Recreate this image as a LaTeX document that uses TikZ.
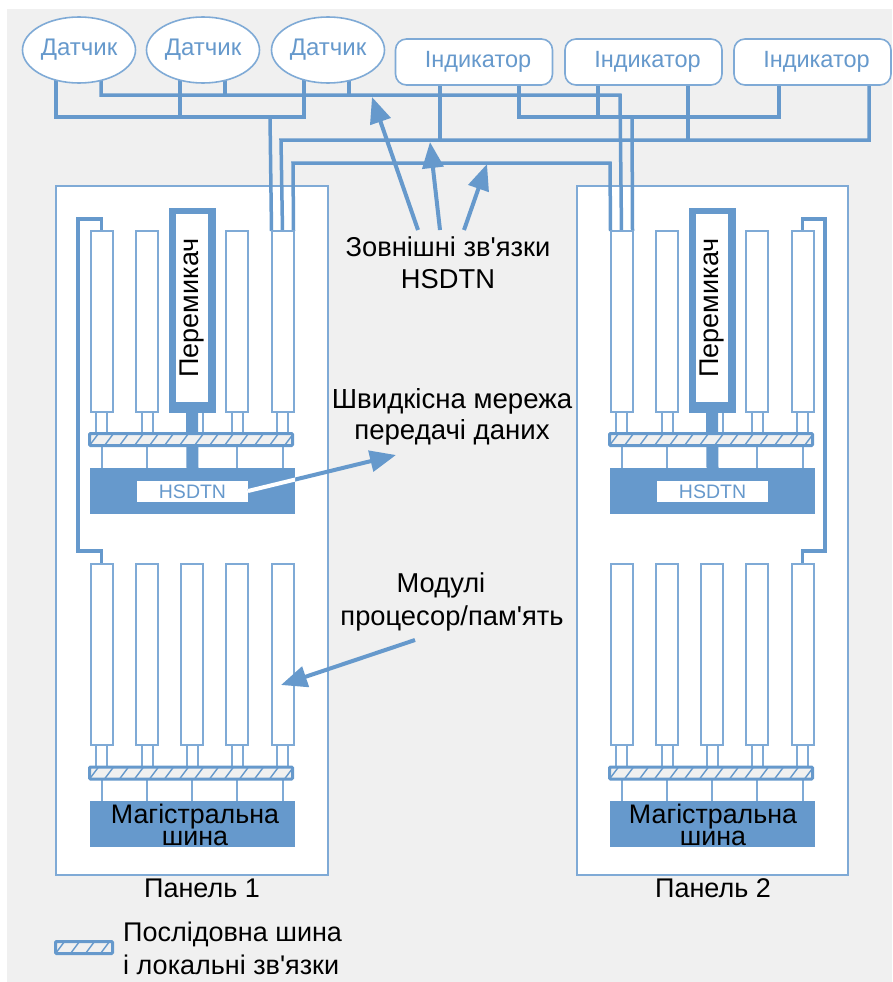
\documentclass[tikz,border=0pt]{standalone}
\usepackage{fontspec}
\newfontfamily\lib{Liberation Sans}
\usetikzlibrary{arrows.meta,calc,shapes.geometric}
\definecolor{bl}{HTML}{6699CC}
\definecolor{bll}{HTML}{7FAAD6}
\definecolor{bgg}{HTML}{F0F0F0}
\pgfdeclarelayer{back}
\pgfdeclarelayer{wires}
\pgfdeclarelayer{front}
\pgfsetlayers{back,wires,main,front}
\newcommand\fs[2]{\lib\fontsize{#1}{#2}\selectfont}
\tikzset{
  panelbox/.style={draw=bll,line width=2pt,fill=white,inner sep=0pt,outer sep=0pt},
  modbox/.style={draw=bll,line width=2pt,fill=white,inner sep=0pt,outer sep=0pt,minimum width=22pt,minimum height=181pt},
  blockbox/.style={fill=bl,inner sep=0pt,outer sep=0pt,minimum width=205pt,minimum height=46pt},
  wire/.style={draw=bl,line width=3.5pt,line join=miter},
  thin wire/.style={draw=bll,line width=2pt},
  stem/.style={draw=bl,line width=12pt},
  sensor/.style={ellipse,draw=bll,line width=1.6pt,fill=white,inner sep=0pt,outer sep=0pt,minimum width=113pt,minimum height=66pt,text=bl,font=\fs{24}{27}},
  indic/.style={rectangle,rounded corners=11pt,draw=bll,line width=1.6pt,fill=white,inner sep=0pt,outer sep=0pt,minimum width=157pt,minimum height=46pt,text=bl,font=\fs{23.5}{26}},
  hatchbus/.style={draw=bl,line width=3pt,fill=bgg,rounded corners=1pt,inner sep=0pt,outer sep=0pt,minimum height=12pt,
    path picture={\foreach \i in {0,15,...,210}{\draw[bl,line width=1.4pt] ($(path picture bounding box.south west)+(\i,0)$) -- ++(9,-12);}}},
  lbl/.style={inner sep=0pt,align=center,text=black,font=\fs{27.3}{32}},
  callout/.style={draw=bl,line width=4pt,-{Triangle[length=26pt,width=21pt]}},
}
\newcommand\panelbody[4]{%
\begin{scope}[xshift=#2pt]
  \begin{pgfonlayer}{back}
    \node[panelbox,minimum width=#3pt,minimum height=689pt] (#1) at (192,530.5) {};
  \end{pgfonlayer}
  \foreach \k/\x in {1/101.5,2/147,4/237,5/282.5}{
    \node[modbox] (#1u\k) at (\x,321.5) {};
  }
  \foreach \k/\x in {1/101.5,2/147,3/192,4/237,5/282.5}{
    \node[modbox] (#1l\k) at (\x,654.5) {};
  }
  \node[fill=bl,inner sep=0pt,outer sep=0pt,minimum width=47pt,minimum height=205pt] (#1sw) at (192.5,310.5) {};
  \node[fill=white,inner sep=0pt,outer sep=0pt,minimum width=32pt,minimum height=188pt,rotate=0] (#1swi) at (192,308) {};
  \node[rotate=90,inner sep=0pt,text=black,font=\fs{27}{28}] (#1swt) at (192,308) {Перемикач};
  \node[hatchbus,minimum width=203pt] (#1bu) at (191,439.5) {};
  \node[hatchbus,minimum width=203pt] (#1bl) at (191,773) {};
  \node[blockbox] (#1hb) at (192.5,491) {};
  \node[fill=white,inner sep=0pt,outer sep=0pt,minimum width=111pt,minimum height=21pt,text=bl,font=\fs{19.5}{22}] (#1hs) at (192.5,491.5) {HSDTN};
  \node[blockbox] (#1mb) at (192.5,824) {};
  \node[inner sep=0pt,align=center,text=black,font=\fs{26.8}{22}] (#1mt) at (#4,825) {Магістральна\\шина};
  \begin{pgfonlayer}{wires}
    \foreach \k in {1,2,4,5}{
      \draw[thin wire] (#1u\k.south) ++(-5.5,0) -- ++(0,22);
      \draw[thin wire] (#1u\k.south) ++(5.5,0) -- ++(0,22);
      \draw[thin wire] (#1bu.south -| #1u\k.south) -- (#1hb.north -| #1u\k.south);
    }
    \draw[thin wire] (#1sw.south) ++(10.5,0) -- ++(0,22);
    \draw[stem] (#1sw.south) ++(-0.5,0) -- (#1hb.north);
    \foreach \k in {1,2,3,4,5}{
      \draw[thin wire] (#1l\k.south) ++(-5.5,0) -- ++(0,22);
      \draw[thin wire] (#1l\k.south) ++(5.5,0) -- ++(0,22);
      \draw[thin wire] (#1bl.south -| #1l\k.south) -- (#1mb.north -| #1l\k.south);
    }
  \end{pgfonlayer}
\end{scope}}
\begin{document}
\begin{tikzpicture}[x=1pt,y=-1pt]
\useasboundingbox (0,0) rectangle (892,982);
\begin{pgfonlayer}{back}
  \fill[bgg] (7,9) rectangle (892,982);
\end{pgfonlayer}
\panelbody{pa}{0}{272}{195}
\panelbody{pb}{520}{271}{193}

\node[sensor] (s1) at (79,50) {\raisebox{-2pt}{Датчик}};
\node[sensor] (s2) at (203,50) {\raisebox{-2pt}{Датчик}};
\node[sensor] (s3) at (328,50) {\raisebox{-2pt}{Датчик}};
\node[indic] (i1) at (474,62) {\hspace*{8pt}Індикатор};
\node[indic] (i2) at (643.5,62) {\hspace*{8pt}Індикатор};
\node[indic] (i3) at (812.5,62) {\hspace*{8pt}Індикатор};

\coordinate (a1) at (56,117);
\coordinate (a2) at (180,117);
\coordinate (a3) at (304,117);
\coordinate (a4) at (270,117);
\coordinate (b1) at (101,95);
\coordinate (b2) at (225,95);
\coordinate (b3) at (349,95);
\coordinate (b4) at (620,95);
\coordinate (c1) at (519,117);
\coordinate (c2) at (598,117);
\coordinate (c3) at (779,117);
\coordinate (c4) at (632,117);
\coordinate (d0) at (281,140);
\coordinate (d1) at (440,140);
\coordinate (d2) at (688,140);
\coordinate (d3) at (869,140);
\coordinate (e1) at (293,163);
\coordinate (e2) at (610,163);
\coordinate (wa) at (78,219);
\coordinate (wb) at (78,551);
\coordinate (wc) at (825,219);
\coordinate (wd) at (825,551);

\begin{pgfonlayer}{wires}
  \draw[wire,line width=4pt] (s1.center -| a1) -- (a1) -- (a3) -- (s3.center -| a3);
  \draw[wire,line width=4pt] (s2.center -| a2) -- (a2);
  \draw[wire] (a4) -- (pau5.north west);
  \draw[wire] (s1.center -| b1) -- (b1) -- (b4) -- (pbu1.north);
  \draw[wire] (s2.center -| b2) -- (b2);
  \draw[wire] (s3.center -| b3) -- (b3);
  \draw[wire] (i1.center -| c1) -- (c1) -- (c3) -- (i3.center -| c3);
  \draw[wire] (i2.center -| c2) -- (c2);
  \draw[wire] (c4) -- (pbu1.north east);
  \draw[wire] (pau5.north) -- (d0) -- (d3) -- (i3.center -| d3);
  \draw[wire] (i1.center -| d1) -- (d1);
  \draw[wire] (i2.center -| d2) -- (d2);
  \draw[wire] (pau5.north east) -- (e1) -- (e2) -- (pbu1.north west);
  \draw[wire] (pau1.north) -- (pau1.north |- wa) -- (wa) -- (wb) -- (wb -| pal1.north) -- (pal1.north);
  \draw[wire] (pbu5.north) -- (pbu5.north |- wc) -- (wc) -- (wd) -- (wd -| pbl5.north) -- (pbl5.north);
\end{pgfonlayer}

\node[lbl] (t1) at (448,263) {Зовнішні зв'язки\\HSDTN};
\node[lbl,font=\fs{27.6}{31}] (t2) at (452,417) {Швидкісна мережа\\передачі даних};
\node[lbl,font=\fs{27.3}{33}] (t3) at (452,602) {\hspace*{-22pt}Модулі\\процесор/пам'ять};
\node[inner sep=0pt,text=black,font=\fs{27}{28}] (t4) at (202,888) {Панель 1};
\node[inner sep=0pt,text=black,font=\fs{27}{28}] (t5) at (713,888) {Панель 2};
\node[hatchbus,minimum width=57pt] (lg) at (84,947.5) {};
\node[inner sep=0pt,align=left,anchor=west,text=black,font=\fs{27}{33}] (t6) at (123,948) {Послідовна шина\\і локальні зв'язки};

\coordinate (f1) at (418,230);
\coordinate (f2) at (440,230);
\coordinate (f3) at (464,230);
\coordinate (g1) at (372,97);
\coordinate (g2) at (430,142);
\coordinate (g3) at (487,164);
\coordinate (h1) at (248,491);
\coordinate (h2) at (396,455);
\coordinate (k1) at (415,640);
\coordinate (k2) at (281,685);
\begin{pgfonlayer}{front}
  \draw[callout] (f1) -- (g1);
  \draw[callout] (f2) -- (g2);
  \draw[callout] (f3) -- (g3);
  \draw[callout] (h1) -- (h2);
  \draw[callout] (k1) -- (k2);
  \begin{scope}
    \clip (pahb.north west) rectangle (pahb.south east);
    \draw[white,line width=4pt] (h1) -- (h2);
  \end{scope}
\end{pgfonlayer}
\end{tikzpicture}
\end{document}
